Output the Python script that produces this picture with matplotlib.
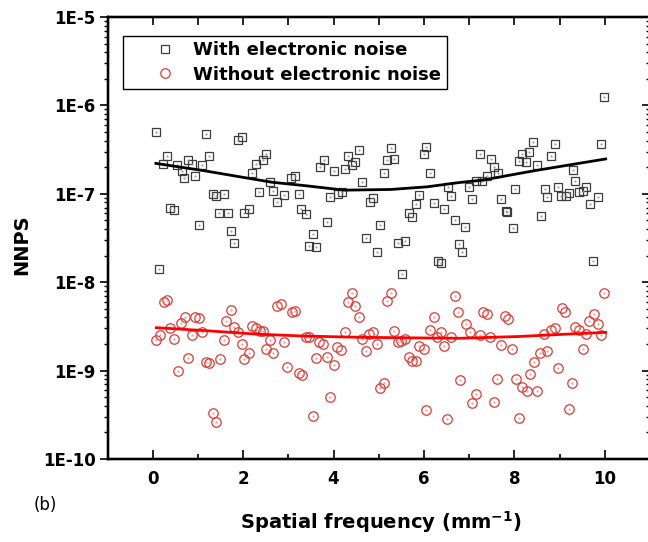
import matplotlib.pyplot as plt
from matplotlib.ticker import LogLocator, NullFormatter

plt.rcParams['font.family'] = 'DejaVu Sans'
plt.rcParams['mathtext.fontset'] = 'dejavusans'
plt.rcParams['mathtext.default'] = 'bf'

# NNPS with electronic noise (squares)
with_x = [0.08, 0.15, 0.22, 0.32, 0.38, 0.46, 0.53, 0.64, 0.70, 0.77, 0.86, 0.94,
          1.02, 1.09, 1.18, 1.25, 1.34, 1.41, 1.47, 1.58, 1.66, 1.73, 1.80, 1.89,
          1.97, 2.03, 2.12, 2.20, 2.28, 2.36, 2.43, 2.51, 2.60, 2.67, 2.75, 2.91,
          3.06, 3.14, 3.23, 3.29, 3.39, 3.45, 3.54, 3.62, 3.69, 3.78, 3.85, 3.93,
          4.00, 4.09, 4.18, 4.25, 4.33, 4.40, 4.48, 4.56, 4.64, 4.71, 4.80, 4.88,
          4.96, 5.03, 5.12, 5.18, 5.27, 5.34, 5.42, 5.51, 5.58, 5.66, 5.74, 5.83,
          5.90, 5.99, 6.05, 6.13, 6.22, 6.30, 6.37, 6.44, 6.54, 6.60, 6.68, 6.77,
          6.84, 6.91, 7.00, 7.07, 7.16, 7.24, 7.29, 7.40, 7.48, 7.55, 7.63, 7.71,
          7.81, 7.84, 7.97, 8.02, 8.10, 8.17, 8.26, 8.33, 8.42, 8.49, 8.58, 8.67,
          8.73, 8.81, 8.89, 8.97, 9.04, 9.14, 9.20, 9.29, 9.35, 9.44, 9.51, 9.59,
          9.68, 9.75, 9.84, 9.91, 9.99]
with_y = [5.0e-7, 1.4e-8, 2.2e-7, 2.7e-7, 7.0e-8, 6.6e-8, 2.1e-7, 1.8e-7, 1.5e-7, 2.4e-7, 2.2e-7, 1.6e-7,
          4.4e-8, 2.1e-7, 4.7e-7, 2.7e-7, 1.0e-7, 9.5e-8, 6.0e-8, 9.9e-8, 6.0e-8, 3.8e-8, 2.8e-8, 4.1e-7,
          4.4e-7, 6.0e-8, 6.7e-8, 1.7e-7, 2.2e-7, 1.06e-7, 2.4e-7, 2.8e-7, 1.35e-7, 1.08e-7, 8.1e-8, 9.7e-8,
          1.5e-7, 1.6e-7, 1.0e-7, 6.7e-8, 5.9e-8, 2.6e-8, 3.5e-8, 2.5e-8, 2.0e-7, 2.4e-7, 4.8e-8, 9.3e-8,
          1.8e-7, 1.0e-7, 1.04e-7, 1.9e-7, 2.7e-7, 2.1e-7, 2.3e-7, 3.1e-7, 1.35e-7, 3.2e-8, 8.0e-8, 9.0e-8,
          2.2e-8, 4.4e-8, 1.7e-7, 2.4e-7, 3.3e-7, 2.5e-7, 2.8e-8, 1.24e-8, 2.9e-8, 6.1e-8, 5.4e-8, 7.7e-8,
          9.7e-8, 2.8e-7, 3.4e-7, 1.7e-7, 7.8e-8, 1.74e-8, 1.66e-8, 6.7e-8, 1.18e-7, 9.4e-8, 5.0e-8, 2.7e-8,
          2.2e-8, 4.2e-8, 1.2e-7, 8.7e-8, 1.4e-7, 2.8e-7, 1.4e-7, 1.6e-7, 2.5e-7, 2.0e-7, 1.7e-7, 8.7e-8,
          6.4e-8, 6.3e-8, 4.1e-8, 1.12e-7, 2.35e-7, 2.8e-7, 2.3e-7, 3.0e-7, 3.9e-7, 2.1e-7, 5.6e-8, 1.13e-7,
          9.3e-8, 2.7e-7, 3.7e-7, 1.18e-7, 9.4e-8, 9.4e-8, 1.03e-7, 1.86e-7, 1.4e-7, 1.04e-7, 1.08e-7, 1.18e-7,
          7.7e-8, 1.75e-8, 9.2e-8, 3.7e-7, 1.24e-6]

# NNPS without electronic noise (circles)
without_x = [0.08, 0.16, 0.24, 0.32, 0.39, 0.46, 0.55, 0.63, 0.71, 0.78, 0.86, 0.94,
             1.02, 1.09, 1.18, 1.25, 1.33, 1.41, 1.49, 1.57, 1.63, 1.73, 1.80, 1.89,
             1.97, 2.03, 2.12, 2.20, 2.28, 2.37, 2.44, 2.50, 2.60, 2.67, 2.74, 2.84,
             2.90, 2.98, 3.08, 3.15, 3.24, 3.31, 3.39, 3.46, 3.54, 3.62, 3.68, 3.77,
             3.85, 3.93, 4.00, 4.07, 4.17, 4.25, 4.33, 4.40, 4.48, 4.57, 4.64, 4.71,
             4.79, 4.88, 4.96, 5.03, 5.12, 5.19, 5.27, 5.34, 5.42, 5.49, 5.58, 5.66,
             5.74, 5.83, 5.89, 5.99, 6.05, 6.13, 6.22, 6.28, 6.37, 6.45, 6.52, 6.60,
             6.68, 6.76, 6.80, 6.92, 7.01, 7.07, 7.14, 7.24, 7.31, 7.40, 7.46, 7.56,
             7.62, 7.71, 7.79, 7.86, 7.95, 8.04, 8.10, 8.17, 8.27, 8.34, 8.43, 8.50,
             8.56, 8.65, 8.73, 8.80, 8.90, 8.96, 9.06, 9.13, 9.20, 9.28, 9.35, 9.44,
             9.51, 9.59, 9.66, 9.76, 9.84, 9.91, 9.99]
without_y = [2.2e-9, 2.5e-9, 5.9e-9, 6.3e-9, 3.0e-9, 2.3e-9, 9.9e-10, 3.5e-9, 4.0e-9, 1.4e-9, 2.5e-9, 4.0e-9,
             3.9e-9, 2.7e-9, 1.26e-9, 1.21e-9, 3.3e-10, 2.6e-10, 1.34e-9, 2.2e-9, 3.6e-9, 4.8e-9, 3.1e-9, 2.7e-9,
             2.0e-9, 1.36e-9, 1.6e-9, 3.2e-9, 3.0e-9, 2.8e-9, 2.8e-9, 1.74e-9, 2.2e-9, 1.6e-9, 5.4e-9, 5.6e-9,
             2.1e-9, 1.09e-9, 4.6e-9, 4.7e-9, 9.5e-10, 8.9e-10, 2.4e-9, 2.42e-9, 3.1e-10, 1.38e-9, 2.1e-9, 2.0e-9,
             1.44e-9, 5.0e-10, 1.16e-9, 1.86e-9, 1.7e-9, 2.75e-9, 5.9e-9, 7.6e-9, 5.4e-9, 4.0e-9, 2.3e-9, 1.67e-9,
             2.6e-9, 2.75e-9, 2.0e-9, 6.3e-10, 7.2e-10, 6.2e-9, 7.5e-9, 2.8e-9, 2.1e-9, 2.16e-9, 2.26e-9, 1.44e-9,
             1.28e-9, 1.29e-9, 1.9e-9, 1.75e-9, 3.6e-10, 2.9e-9, 4.0e-9, 2.4e-9, 2.7e-9, 1.9e-9, 2.8e-10, 2.4e-9,
             6.9e-9, 4.6e-9, 7.8e-10, 3.4e-9, 2.75e-9, 4.3e-10, 5.4e-10, 2.5e-9, 4.6e-9, 4.4e-9, 2.4e-9, 4.4e-10,
             8.0e-10, 1.95e-9, 4.1e-9, 3.8e-9, 1.75e-9, 8.0e-10, 2.9e-10, 6.5e-10, 5.9e-10, 9.2e-10, 1.24e-9, 5.9e-10,
             1.6e-9, 2.6e-9, 1.67e-9, 2.9e-9, 3.0e-9, 1.06e-9, 5.1e-9, 4.6e-9, 3.7e-10, 7.2e-10, 3.1e-9, 2.9e-9,
             1.74e-9, 2.6e-9, 3.6e-9, 4.4e-9, 3.4e-9, 2.5e-9, 7.6e-9]

# fitted curves
fit_with_x = [0.07, 1.18, 1.92, 2.65, 3.35, 4.24, 5.27, 6.07, 6.77, 7.30, 8.40, 9.21, 10.02]
fit_with_y = [2.21e-7, 1.81e-7, 1.56e-7, 1.35e-7, 1.24e-7, 1.10e-7, 1.12e-7, 1.20e-7,
              1.34e-7, 1.43e-7, 1.81e-7, 2.12e-7, 2.48e-7]
fit_without_x = [0.08, 1.18, 2.28, 3.35, 4.60, 6.77, 8.08, 8.76, 10.02]
fit_without_y = [3.06e-9, 2.83e-9, 2.59e-9, 2.46e-9, 2.38e-9, 2.32e-9, 2.43e-9, 2.53e-9, 2.71e-9]

xticks = [0, 2, 4, 6, 8, 10]
xticks_minor = [1, 3, 5, 7, 9]
yticks = [1e-10, 1e-9, 1e-8, 1e-7, 1e-6, 1e-5]
ytick_labels = ['1E-10', '1E-9', '1E-8', '1E-7', '1E-6', '1E-5']

fig = plt.figure(figsize=(6.48, 5.42), dpi=100)
ax = fig.add_axes([0.1659, 0.1531, 0.8372, 0.8155])

ax.plot(with_x, with_y, 's', ms=6, mfc='none', mec='#3c3c3c', mew=0.9,
        label='With electronic noise')
ax.plot(without_x, without_y, 'o', ms=6.8, mfc='none', mec='#e23a33', mew=0.9,
        label='Without electronic noise')
# little centre dots like the original software draws
ax.plot(with_x, with_y, '.', ms=1, color='#909090')
ax.plot(without_x, without_y, '.', ms=1, color='#e89090')

ax.plot(fit_with_x, fit_with_y, '-', color='black', lw=2)
ax.plot(fit_without_x, fit_without_y, '-', color='#ff0000', lw=2)

ax.set_yscale('log')
ax.set_ylim(1e-10, 1e-5)
ax.set_xlim(-1, 11)
ax.set_yticks(yticks, ytick_labels)
ax.yaxis.set_minor_locator(LogLocator(base=10, subs=range(2, 10)))
ax.yaxis.set_minor_formatter(NullFormatter())
ax.set_xticks(xticks)
ax.set_xticks(xticks_minor, minor=True)

ax.tick_params(axis='x', which='major', direction='in', length=6.5, width=1.2, pad=8, labelsize=12)
ax.tick_params(axis='x', which='minor', direction='in', length=3.5, width=1.2)
ax.tick_params(axis='y', which='major', direction='out', length=5.5, width=1.2, pad=3, labelsize=12)
ax.tick_params(axis='y', which='minor', direction='out', length=3, width=1)
for lab in ax.get_xticklabels() + ax.get_yticklabels():
    lab.set_fontweight('bold')

# right and top ticks point inwards
axr = ax.twinx()
axr.set_yscale('log')
axr.set_ylim(1e-10, 1e-5)
axr.yaxis.set_minor_locator(LogLocator(base=10, subs=range(2, 10)))
axr.yaxis.set_minor_formatter(NullFormatter())
axr.tick_params(which='major', direction='in', length=5.5, width=1.2, labelright=False)
axr.tick_params(which='minor', direction='in', length=3, width=1)

axt = ax.twiny()
axt.set_xlim(-1, 11)
axt.set_xticks(range(0, 11))
axt.tick_params(which='major', direction='in', length=5.5, width=1.2, labeltop=False)

for a in (ax, axr, axt):
    for s in a.spines.values():
        s.set_linewidth(1.6)

leg = ax.legend(loc='upper left', bbox_to_anchor=(0.0286, 0.957), borderaxespad=0,
                fancybox=False, edgecolor='black', framealpha=1, numpoints=1,
                prop={'weight': 'bold', 'size': 13}, handlelength=4.0,
                handletextpad=-0.4, borderpad=0.3, labelspacing=0.35)
leg.get_frame().set_linewidth(1.0)

fig.text(22 / 648, 1 - 245 / 542, 'NNPS', rotation=90, ha='center', va='center',
         fontsize=14, fontweight='bold')
fig.text(381 / 648, 1 - 522 / 542, r'Spatial frequency (mm$^{-1}$)', ha='center', va='center',
         fontsize=14, fontweight='bold')
fig.text(45 / 648, 1 - 505 / 542, '(b)', ha='center', va='center', fontsize=12)

fig.savefig('out.png', dpi=100)
